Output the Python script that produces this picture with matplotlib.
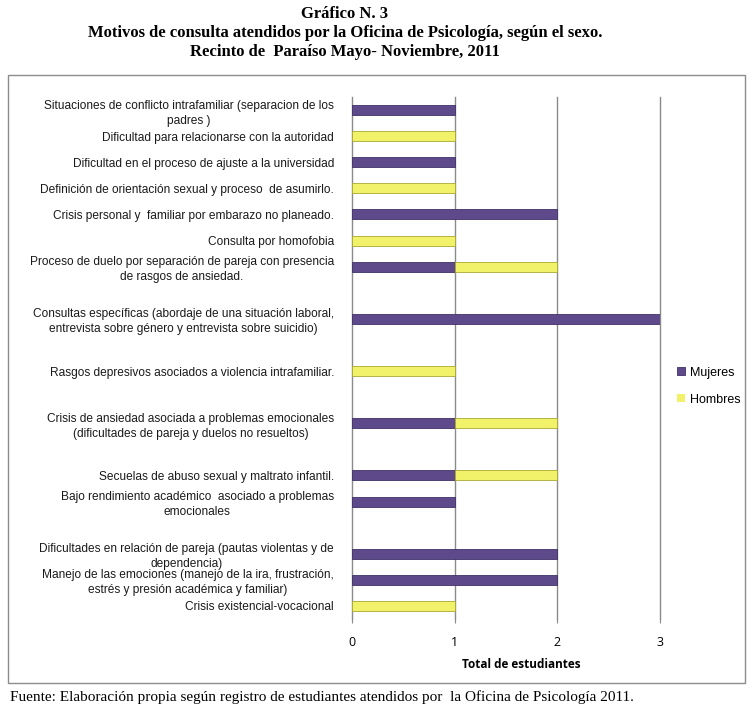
import matplotlib
matplotlib.use("Agg")
import matplotlib.pyplot as plt
from matplotlib.patches import Rectangle
import numpy as np

categories = [
    "Situaciones de conflicto intrafamiliar (separacion de los\npadres )",
    "Dificultad para relacionarse con la autoridad",
    "Dificultad en el proceso de ajuste a la universidad",
    "Definición de orientación sexual y proceso  de asumirlo.",
    "Crisis personal y  familiar por embarazo no planeado.",
    "Consulta por homofobia",
    "Proceso de duelo por separación de pareja con presencia\nde rasgos de ansiedad.",
    "",
    "Consultas específicas (abordaje de una situación laboral,\nentrevista sobre género y entrevista sobre suicidio)",
    "",
    "Rasgos depresivos asociados a violencia intrafamiliar.",
    "",
    "Crisis de ansiedad asociada a problemas emocionales\n(dificultades de pareja y duelos no resueltos)",
    "",
    "Secuelas de abuso sexual y maltrato infantil.",
    "Bajo rendimiento académico  asociado a problemas\nemocionales",
    "",
    "Dificultades en relación de pareja (pautas violentas y de\ndependencia)",
    "Manejo de las emociones (manejo de la ira, frustración,\nestrés y presión académica y familiar)",
    "Crisis existencial-vocacional",
]
mujeres = [1, 0, 1, 0, 2, 0, 1, 0, 3, 0, 0, 0, 1, 0, 1, 1, 0, 2, 2, 0]
hombres = [0, 1, 0, 1, 0, 1, 1, 0, 0, 0, 1, 0, 1, 0, 1, 0, 0, 0, 0, 1]
series_names = ["Mujeres", "Hombres"]
x_ticks = [0, 1, 2, 3]
title = "Gráfico N. 3\nMotivos de consulta atendidos por la Oficina de Psicología, según el sexo.\nRecinto de  Paraíso Mayo- Noviembre, 2011"
xlabel = "Total de estudiantes"
footer = "Fuente: Elaboración propia según registro de estudiantes atendidos por  la Oficina de Psicología 2011."

purple = "#5e4a8a"
yellow = "#f2f26a"

fig = plt.figure(figsize=(7.53, 7.13), dpi=100)
W, H = 753, 713

# chart border
fig.patches.append(Rectangle((8 / W, 1 - 683 / H), (745 - 8) / W, (683 - 75) / H,
                             transform=fig.transFigure, fill=False,
                             edgecolor="#8c8c8c", linewidth=1.0))

ax = fig.add_axes([352 / W, 1 - 619 / H, (660 - 352) / W, (619 - 97) / H])
n = len(categories)
y = np.arange(n)
ax.set_ylim(n - 0.5, -0.5)
ax.set_xlim(0, 3.0)

for xv in x_ticks:
    ax.axvline(xv, color="#8a8a8a", linewidth=1.0, zorder=1, clip_on=False)

bh = 0.38
m_edges = ["#3f3166" if v > 0 else "none" for v in mujeres]
h_edges = ["#a8a830" if v > 0 else "none" for v in hombres]
ax.barh(y, mujeres, height=bh, color=purple, edgecolor=m_edges,
        linewidth=0.6, label=series_names[0], zorder=3)
ax.barh(y, hombres, left=mujeres, height=bh, color=yellow, edgecolor=h_edges,
        linewidth=0.6, label=series_names[1], zorder=3)

ax.set_yticks(y)
ax.set_yticklabels(categories, fontsize=8.6, family="Liberation Sans",
                   multialignment="center", color="#1a1a1a", linespacing=1.35)
ax.tick_params(axis="y", length=0, pad=13)
ax.set_xticks(x_ticks)
ax.set_xticklabels([str(v) for v in x_ticks], fontsize=9, family="Open Sans")
ax.tick_params(axis="x", length=3, color="#8a8a8a", pad=9)
for s in ["top", "right", "left", "bottom"]:
    ax.spines[s].set_visible(False)
ax.set_xlabel(xlabel, fontsize=8.5, fontweight="bold", family="Open Sans")
ax.xaxis.set_label_coords((521 - 352) / (660 - 352), -(658 - 619) / (619 - 97))

leg = fig.legend(loc="center left", bbox_to_anchor=(666 / W, 1 - 386 / H),
                 frameon=False, prop={"family": "Liberation Sans", "size": 9},
                 handlelength=0.6, handleheight=0.6, labelspacing=1.2,
                 handletextpad=0.4)

fig.text(345 / W, 1 - 6 / H, title, ha="center", va="top", fontsize=12,
         fontweight="bold", family="Liberation Serif", linespacing=1.25)
fig.text(10 / W, 1 - 697 / H, footer, ha="left", va="center", fontsize=11,
         family="Liberation Serif")

fig.savefig("out.png", dpi=100)
